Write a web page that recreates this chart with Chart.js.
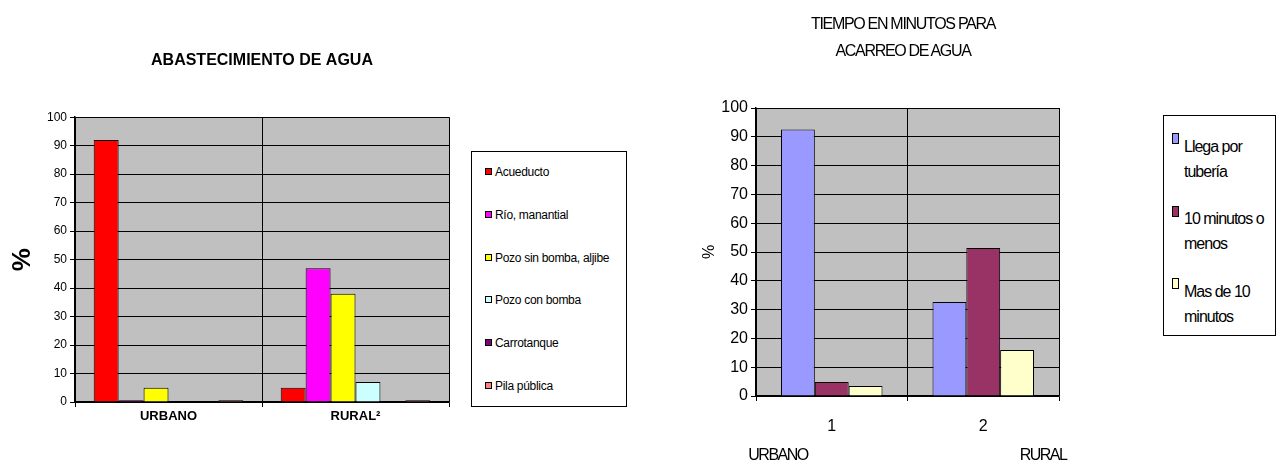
<!DOCTYPE html>
<html>
<head>
<meta charset="utf-8">
<script src="https://cdn.jsdelivr.net/npm/chart.js@4"></script>
<style>
  body { margin: 0; background: #fff; width: 1277px; height: 470px; position: relative; overflow: hidden; font-family: "Liberation Sans", Arial, sans-serif; }
  .box { position: absolute; }
  .legend { position: absolute; border: 1.5px solid #000; box-sizing: border-box; background: #fff; }
  .item { position: absolute; white-space: nowrap; color: #000; }
  .sw { position: absolute; border: 1px solid #000; box-sizing: border-box; }
  .txt { position: absolute; color: #000; text-align: center; white-space: nowrap; }
</style>
</head>
<body>
<div class="box" style="left:0;top:0;width:460px;height:470px;"><canvas id="aguaChart" width="460" height="470"></canvas></div>
<div class="box" style="left:690px;top:0;width:380px;height:470px;"><canvas id="tiempoChart" width="380" height="470"></canvas></div>

<div class="legend" id="aguaLegend" style="left:471px;top:151px;width:156px;height:256px;"></div>
<div class="legend" id="tiempoLegend" style="left:1163px;top:115px;width:113px;height:221px;"></div>

<div class="txt" style="left:783px;top:10px;width:240px;font-size:16px;line-height:27px;letter-spacing:-1.3px;">TIEMPO EN MINUTOS PARA<br>ACARREO DE AGUA</div>
<div class="txt" style="left:728px;top:446px;width:100px;font-size:16px;line-height:18px;letter-spacing:-1.5px;">URBANO</div>
<div class="txt" style="left:993px;top:446px;width:100px;font-size:16px;line-height:18px;letter-spacing:-1.5px;">RURAL</div>

<script>
// --- datos: abastecimiento de agua (%)
const zonasAgua = ['URBANO', 'RURAL²'];
const fuentes = ['Acueducto', 'Río, manantial', 'Pozo sin bomba, aljibe', 'Pozo con bomba', 'Carrotanque', 'Pila pública'];
const acueducto = [92, 5];
const rioManantial = [0.6, 47];
const pozoSinBomba = [5, 38];
const pozoConBomba = [0, 7];
const carrotanque = [0, 0];
const pilaPublica = [0.6, 0.6];
const coloresFuentes = ['#ff0000', '#ff00ff', '#ffff00', '#ccffff', '#800080', '#ff8080'];

// --- datos: tiempo para acarreo de agua (%)
const zonasTiempo = ['1', '2'];
const tiempos = ['Llega por tubería', '10 minutos o menos', 'Mas de 10 minutos'];
const tiemposLineas = [['Llega por', 'tubería'], ['10 minutos o', 'menos'], ['Mas de 10', 'minutos']];
const llegaTuberia = [92.5, 32.6];
const diezOMenos = [4.9, 51.4];
const masDeDiez = [3.5, 16];
const coloresTiempo = ['#9999ff', '#993366', '#ffffcc'];

const yTicks = [0, 10, 20, 30, 40, 50, 60, 70, 80, 90, 100];

const FONT = '"Liberation Sans", Arial, sans-serif';
Chart.defaults.font.family = FONT;
Chart.defaults.color = '#000';

const plotBg = {
    id: 'plotBg',
    beforeDraw(chart) {
        const a = chart.chartArea, ctx = chart.ctx;
        ctx.save();
        ctx.fillStyle = '#c0c0c0';
        ctx.fillRect(a.left, a.top, a.right - a.left, a.bottom - a.top);
        ctx.restore();
    }
};

function makeDatasets(series, labels, colors) {
    return series.map((data, i) => ({
        label: labels[i],
        data: data,
        backgroundColor: colors[i],
        borderColor: '#000',
        borderWidth: 1,
        barPercentage: 1
    }));
}

function yScale(width, tickSize, titleFont, titlePad) {
    return {
        min: 0, max: 100,
        afterBuildTicks: s => { s.ticks = yTicks.map(v => ({ value: v })); },
        afterFit: s => { s.width = width; },
        ticks: { font: { size: tickSize }, color: '#000', padding: 3 },
        grid: { color: '#000', lineWidth: 1, tickLength: 5 },
        border: { display: true, color: '#000', width: 1.5 },
        title: { display: true, text: '%', font: titleFont, color: '#000', padding: { top: titlePad, bottom: 0 } }
    };
}

function xScale(height, tickFont, tickPad) {
    return {
        afterFit: s => { s.height = height; },
        ticks: { font: tickFont, color: '#000', padding: tickPad },
        grid: {
            offset: true,
            color: ctx => ctx.index === 2 ? '#a0a0a0' : '#000',
            lineWidth: ctx => ctx.index === 2 ? 2 : 1,
            tickLength: 5
        },
        border: { display: true, color: '#000', width: 1.5 }
    };
}

new Chart(document.getElementById('aguaChart'), {
    type: 'bar',
    data: {
        labels: zonasAgua,
        datasets: makeDatasets([acueducto, rioManantial, pozoSinBomba, pozoConBomba, carrotanque, pilaPublica], fuentes, coloresFuentes)
            .map(d => Object.assign(d, { categoryPercentage: 0.8 }))
    },
    options: {
        responsive: false,
        animation: false,
        layout: { padding: { left: 0, right: 11, top: 0, bottom: 0 } },
        plugins: {
            legend: { display: false },
            tooltip: { enabled: false },
            title: {
                display: true, fullSize: false,
                text: 'ABASTECIMIENTO DE AGUA',
                font: { size: 16, weight: 'bold' }, color: '#000',
                padding: { top: 51, bottom: 47 }
            }
        },
        scales: {
            x: xScale(68, { size: 13, weight: 'bold' }, 2),
            y: yScale(75, 12, { size: 26, weight: 'bold' }, 7)
        }
    },
    plugins: [plotBg]
});

new Chart(document.getElementById('tiempoChart'), {
    type: 'bar',
    data: {
        labels: zonasTiempo,
        datasets: makeDatasets([llegaTuberia, diezOMenos, masDeDiez], tiempos, coloresTiempo)
            .map(d => Object.assign(d, { categoryPercentage: 0.67 }))
    },
    options: {
        responsive: false,
        animation: false,
        layout: { padding: { left: 0, right: 11, top: 108, bottom: 0 } },
        plugins: { legend: { display: false }, tooltip: { enabled: false } },
        scales: {
            x: xScale(74, { size: 16 }, 16),
            y: yScale(66, 16, { size: 16 }, 10)
        }
    },
    plugins: [plotBg]
});

// leyendas
const aguaLegend = document.getElementById('aguaLegend');
fuentes.forEach((name, i) => {
    const top = 20 + i * 42.8;
    aguaLegend.insertAdjacentHTML('beforeend',
        `<div class="sw" style="left:13px;top:${top - 4}px;width:7px;height:7px;background:${coloresFuentes[i]}"></div>` +
        `<div class="item" style="left:23px;top:${top - 8}px;font-size:12px;line-height:16px;letter-spacing:-0.3px;">${name}</div>`);
});

const tiempoLegend = document.getElementById('tiempoLegend');
tiemposLineas.forEach((lines, i) => {
    const top = 30 + i * 72.5;
    tiempoLegend.insertAdjacentHTML('beforeend',
        `<div class="sw" style="left:8px;top:${top - 13}px;width:7px;height:11px;background:${coloresTiempo[i]}"></div>` +
        `<div class="item" style="left:20px;top:${top - 12.5}px;font-size:16px;line-height:25px;letter-spacing:-1px;">${lines.join('<br>')}</div>`);
});
</script>
</body>
</html>
